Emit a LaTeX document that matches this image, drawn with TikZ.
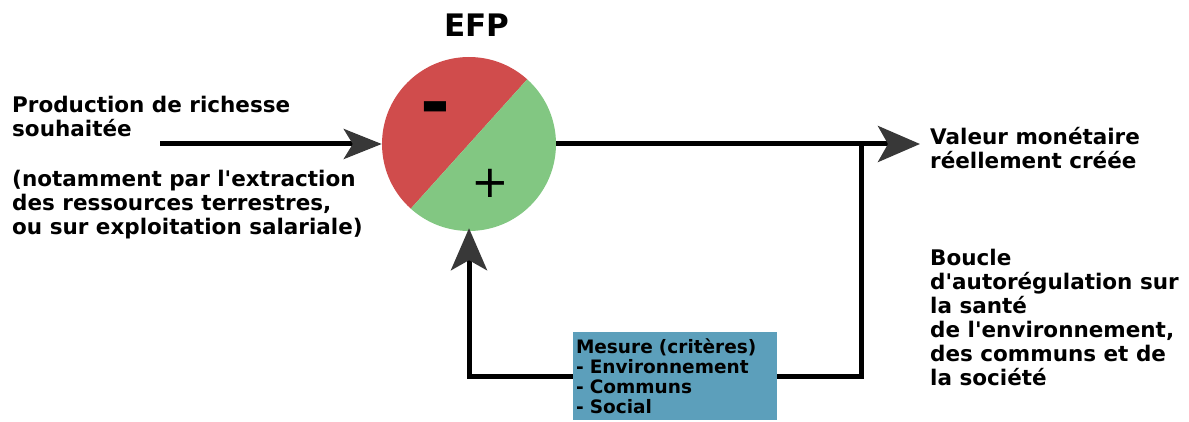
\documentclass[tikz,border=0pt]{standalone}
\usepackage{fontspec}
\setmainfont{DejaVu Sans}[Ligatures=TeXOff]
\usetikzlibrary{arrows.meta,positioning,calc}
\definecolor{efpred}{RGB}{208,76,76}
\definecolor{efpgreen}{RGB}{130,199,130}
\definecolor{boxblue}{RGB}{92,159,187}
\definecolor{tipgray}{RGB}{56,56,56}
\tikzset{
  wire/.style={line width=5pt, line cap=butt},
  bigtip/.style={-{Stealth[length=42pt,width=36pt,inset=10pt,color=tipgray]}},
  smalltip/.style={-{Stealth[length=38pt,width=30pt,inset=9pt,color=tipgray]}},
  lbl/.style={font=\bfseries\fontsize{21.5}{24}\selectfont, align=left, inner sep=0pt, anchor=west},
  mbox/.style={fill=boxblue, minimum width=204pt, minimum height=88pt, inner sep=3pt,
     font=\bfseries\fontsize{18.5}{20}\selectfont, align=left, text width=198pt}
}
\begin{document}
\begin{tikzpicture}[x=1pt,y=1pt]
\useasboundingbox (0,0) rectangle (1189,421);
% circle
\coordinate (cc) at (469,277);
\fill[efpred] ($(cc)+(48:87)$) arc (48:228:87) -- cycle;
\fill[efpgreen] ($(cc)+(228:87)$) arc (228:408:87) -- cycle;
\node[circle, minimum size=174pt, inner sep=0pt] (c) at (cc) {};
\node[font=\bfseries\fontsize{31}{36}\selectfont, inner sep=0pt] (efp) at (477,396) {EFP};
\node[font=\bfseries\fontsize{72}{72}\selectfont, inner sep=0pt] (minus) at (435,306) {-};
\node[font=\fontsize{45}{45}\selectfont, inner sep=0pt] (plus) at (490,238) {+};
% texts
\node[lbl] (prod) at (12,305) {Production de richesse\\souhaitée};
\node[lbl] (note) at (12,216) {(notamment par l'extraction\\des ressources terrestres,\\ou sur exploitation salariale)};
\node[lbl] (val) at (930,273) {Valeur monétaire\\réellement créée};
\node[lbl] (boucle) at (930,104) {Boucle\\d'autorégulation sur\\la santé\\de l'environnement,\\des communs et de\\la société};
% box
\node[mbox] (m) at (675,45) {Mesure (critères)\\- Environnement\\- Communs\\- Social};
% connectors
\coordinate (in) at (160,277);
\coordinate (out) at (920,277);
\coordinate (j) at (861,277);
\draw[wire, smalltip] (in) -- (c.west);
\draw[wire, bigtip] (c.east) -- (out);
\draw[wire] (j) |- (m.east);
\draw[wire, bigtip] (m.west) -| ($(c.south)+(0,3)$);
\end{tikzpicture}
\end{document}
